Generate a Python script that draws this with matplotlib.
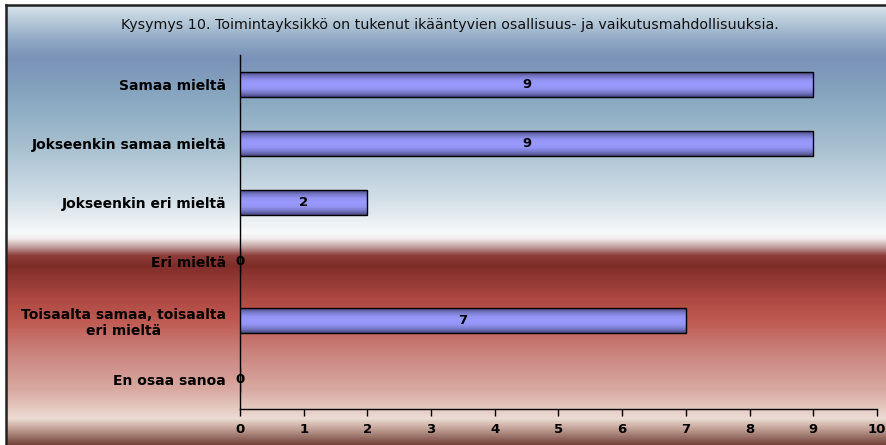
import numpy as np
import matplotlib
matplotlib.use("Agg")
import matplotlib.pyplot as plt
from matplotlib.colors import LinearSegmentedColormap, to_rgb

plt.rcParams['font.family'] = ['DejaVu Sans']

title = "Kysymys 10. Toimintayksikkö on tukenut ikääntyvien osallisuus- ja vaikutusmahdollisuuksia."
categories = ["Samaa mieltä", "Jokseenkin samaa mieltä", "Jokseenkin eri mieltä",
              "Eri mieltä", "Toisaalta samaa, toisaalta\neri mieltä", "En osaa sanoa"]
values = [9, 9, 2, 0, 7, 0]

W, H = 887, 445
fig = plt.figure(figsize=(W / 100, H / 100), dpi=100)
fig.patch.set_facecolor("white")

# background gradient (top -> bottom), stops in pixel rows
bg_stops = [(5, "#dce6ee"), (15, "#c2d3df"), (40, "#8fa8c4"), (58, "#7a92b8"),
            (100, "#8aa9c1"), (150, "#aac2d2"), (200, "#d4e0e8"), (232, "#f8f9fa"),
            (238, "#f2eeee"), (246, "#c4a4a2"), (255, "#8e3e3a"), (265, "#7f2d29"),
            (300, "#b04a44"), (322, "#c05c54"), (350, "#c9807a"), (390, "#d9aba3"),
            (418, "#ecdcd4"), (428, "#c4a398"), (445, "#6e3e34")]
ys = np.arange(5, H)
rgb = np.array([to_rgb(c) for _, c in bg_stops])
pos = np.array([p for p, _ in bg_stops])
grad = np.stack([np.interp(ys, pos, rgb[:, i]) for i in range(3)], axis=-1)
img = np.repeat(grad[:, None, :], 2, axis=1)

bg = fig.add_axes([7 / W, 0, 1 - 7 / W, (H - 5) / H])
bg.imshow(img, aspect="auto", extent=[0, 1, 0, 1], interpolation="bilinear")
bg.set_axis_off()
# frame lines left and top
fig.add_artist(plt.Line2D([6.5 / W, 6.5 / W], [0, 1 - 4.5 / H], color="#222222", lw=1.8))
fig.add_artist(plt.Line2D([6.5 / W, 1], [1 - 4.5 / H, 1 - 4.5 / H], color="#222222", lw=1.8))

fig.text(450 / W, 1 - 25 / H, title, ha="center", va="center", fontsize=10.3, color="#111111")

# main axes: x 240..877, y 55..409
ax = fig.add_axes([240 / W, 1 - 409 / H, (877 - 240) / W, (409 - 55) / H])
ax.patch.set_alpha(0)
y = np.arange(len(categories))
bh = 0.41
bars = ax.barh(y, values, height=bh, color="#9999ff", edgecolor="black", linewidth=1.0, zorder=3)

bar_cmap = LinearSegmentedColormap.from_list(
    "barg", ["#4a4a82", "#7878c8", "#9494f4", "#9999ff", "#9494f4", "#7878c8", "#4a4a82"])
gimg = np.linspace(0, 1, 50)[:, None]
for b, v in zip(bars, values):
    if v <= 0:
        continue
    x0, y0 = b.get_x(), b.get_y()
    im = ax.imshow(gimg, cmap=bar_cmap, aspect="auto", zorder=3.5,
                   extent=[x0, x0 + b.get_width(), y0 + b.get_height(), y0])
    im.set_clip_path(b)
    b.set_facecolor("none")
    b.set_zorder(4)

for yi, v in zip(y, values):
    xt = v / 2 if v > 0 else 0
    ax.text(xt, yi, str(v), ha="center", va="center", fontsize=9.5,
            fontweight="bold", color="black", zorder=5)

ax.set_xlim(0, 10)
ax.set_ylim(len(categories) - 0.5, -0.5)
ax.set_xticks(range(11))
ax.set_yticks(y)
ax.set_yticklabels(categories, fontsize=10, fontweight="bold", ha="center", multialignment="center")
for lab in ax.get_yticklabels():
    lab.set_horizontalalignment("right")
ax.tick_params(axis="y", length=0, pad=10)
ax.tick_params(axis="x", length=5, width=1, direction="out", pad=5, labelsize=9.5)
for lab in ax.get_xticklabels():
    lab.set_fontweight("bold")
ax.spines["top"].set_visible(False)
ax.spines["right"].set_visible(False)
ax.spines["left"].set_linewidth(1)
ax.spines["bottom"].set_linewidth(1)

fig.savefig("out.png", dpi=100)
